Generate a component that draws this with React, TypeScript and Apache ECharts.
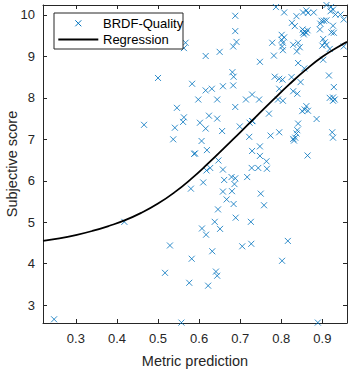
import React, { useEffect, useRef } from "react";
import * as echarts from "echarts";

// Scatter data: metric prediction (x) vs subjective score (y)
const metricX: number[] = [
  0.563, 0.567, 0.500, 0.583, 0.546, 0.563, 0.466, 0.541, 0.561, 0.537,
  0.588, 0.580, 0.418, 0.529, 0.582, 0.517, 0.576, 0.247, 0.557,
  0.646, 0.689, 0.726, 0.638, 0.607, 0.617, 0.651, 0.632, 0.705, 0.727,
  0.816, 0.802, 0.641, 0.644, 0.622, 0.889,
  0.624, 0.644, 0.602, 0.616, 0.656, 0.699, 0.723, 0.730, 0.770, 0.851,
  0.865, 0.886, 0.841, 0.839, 0.837, 0.834, 0.829, 0.831, 0.795, 0.774,
  0.722, 0.606, 0.590, 0.619, 0.748, 0.729, 0.748, 0.764, 0.728, 0.744,
  0.765, 0.647, 0.627, 0.618, 0.658, 0.661, 0.679, 0.688, 0.686, 0.717,
  0.610, 0.658, 0.680, 0.750, 0.667, 0.684, 0.758, 0.864, 0.924, 0.926,
  0.787, 0.807, 0.688, 0.688, 0.691, 0.683, 0.616, 0.650, 0.748, 0.782,
  0.778, 0.801, 0.804, 0.802, 0.804, 0.829, 0.841, 0.845, 0.838, 0.841,
  0.856, 0.837, 0.853, 0.861, 0.865, 0.879, 0.826, 0.833, 0.852, 0.857,
  0.853, 0.861, 0.855, 0.864, 0.910, 0.921, 0.926, 0.944, 0.920, 0.932,
  0.952, 0.898, 0.904, 0.910, 0.895, 0.926, 0.894, 0.922, 0.928, 0.902,
  0.906, 0.910, 0.900, 0.918, 0.952, 0.902, 0.916, 0.928, 0.918, 0.926,
  0.930, 0.926, 0.784, 0.795, 0.803, 0.825, 0.847, 0.829, 0.839, 0.795,
  0.792, 0.804, 0.861, 0.857, 0.681, 0.684, 0.616, 0.631, 0.658, 0.683,
  0.598, 0.644, 0.714, 0.729, 0.746, 0.688, 0.729, 0.801, 0.807
];
const subjectiveY: number[] = [
  9.20, 9.33, 8.48, 8.34, 7.76, 7.53, 7.35, 7.28, 7.42, 7.00,
  6.65, 5.81, 5.01, 4.44, 4.12, 3.78, 3.54, 2.66, 2.58,
  5.31, 5.11, 5.01, 5.01, 4.85, 4.70, 4.84, 4.30, 4.42, 4.48,
  4.55, 4.07, 3.81, 3.71, 3.47, 2.58,
  7.57, 7.50, 7.40, 7.26, 7.20, 7.31, 7.40, 7.44, 7.62, 7.68,
  7.69, 7.49, 7.38, 7.22, 7.14, 7.04, 7.01, 6.97, 7.17, 7.09,
  7.06, 6.96, 6.66, 6.74, 6.83, 6.72, 6.60, 6.47, 6.31, 6.31,
  6.29, 6.49, 6.31, 6.25, 6.27, 6.02, 6.09, 6.06, 5.92, 6.09,
  5.96, 5.74, 5.75, 5.69, 5.55, 5.44, 5.41, 6.61, 7.17, 7.04,
  10.19, 10.06, 9.98, 9.61, 9.35, 9.24, 9.01, 9.11, 8.87, 9.02,
  9.33, 9.52, 9.33, 9.24, 9.15, 9.28, 9.33, 9.22, 9.12, 8.84,
  8.71, 9.97, 10.06, 10.11, 10.05, 10.06, 9.81, 9.73, 9.65, 9.60,
  9.57, 9.57, 9.53, 9.63, 10.24, 10.19, 10.13, 10.01, 10.09, 10.01,
  9.89, 9.86, 9.86, 9.87, 9.79, 9.74, 9.65, 9.58, 9.57, 9.42,
  9.34, 9.28, 9.26, 9.18, 9.24, 8.92, 8.54, 8.26, 8.00, 8.01,
  7.96, 7.93, 8.51, 8.46, 8.44, 8.50, 8.38, 8.16, 8.10, 8.22,
  7.96, 7.93, 7.80, 7.72, 8.62, 8.51, 8.18, 8.22, 8.28, 8.30,
  7.96, 7.96, 7.96, 8.08, 7.96, 7.78, 7.44, 9.40, 9.46
];

// Regression curve
const regX: number[] = [0.22, 0.26, 0.30, 0.34, 0.38, 0.42, 0.46, 0.50, 0.54, 0.58, 0.62, 0.66, 0.70, 0.74, 0.78, 0.82, 0.86, 0.90, 0.94, 0.96];
const regY: number[] = [4.55, 4.61, 4.69, 4.79, 4.91, 5.05, 5.23, 5.45, 5.72, 6.04, 6.40, 6.78, 7.17, 7.56, 7.95, 8.33, 8.68, 8.99, 9.24, 9.35];

const xTicks: number[] = [0.3, 0.4, 0.5, 0.6, 0.7, 0.8, 0.9];
const yTicks: number[] = [3, 4, 5, 6, 7, 8, 9, 10];

const seriesNames = ["BRDF-Quality", "Regression"];

const BLUE = "#0072BD";
const AX = "#262626";
const FONT = "'Liberation Sans', Arial, Helvetica, sans-serif";
const XMARK = "path://M0,0L10,10M10,0L0,10";

export default function App() {
  const ref = useRef<HTMLDivElement>(null);
  useEffect(() => {
    if (!ref.current) return;
    const chart = echarts.init(ref.current, undefined, { renderer: "svg" });
    const axisCommon = {
      type: "value" as const,
      axisLine: { show: true, lineStyle: { color: AX, width: 1 } },
      axisTick: { show: true, inside: true, length: 4, lineStyle: { color: AX } },
      splitLine: { show: false },
    };
    chart.setOption({
      animation: false,
      backgroundColor: "#ffffff",
      textStyle: { fontFamily: FONT },
      grid: { left: 43, right: 4, top: 5, bottom: 47, containLabel: false, outerBoundsMode: "none" },
      xAxis: [
        {
          ...axisCommon,
          position: "bottom",
          min: 0.22,
          max: 0.96,
          axisTick: { ...axisCommon.axisTick, customValues: xTicks },
          axisLabel: {
            customValues: xTicks,
            color: AX,
            fontSize: 13,
            fontFamily: FONT,
            margin: 9,
            formatter: (v: number) => v.toFixed(1),
          },
          name: "Metric prediction",
          nameLocation: "middle",
          nameGap: 30,
          nameTextStyle: { color: AX, fontSize: 14.5, fontFamily: FONT },
        },
        {
          ...axisCommon,
          position: "top",
          min: 0.22,
          max: 0.96,
          axisTick: { ...axisCommon.axisTick, customValues: xTicks },
          axisLabel: { show: false },
        },
      ],
      yAxis: [
        {
          ...axisCommon,
          position: "left",
          min: 2.57,
          max: 10.24,
          axisTick: { ...axisCommon.axisTick, customValues: yTicks },
          axisLabel: {
            customValues: yTicks,
            color: AX,
            fontSize: 13,
            fontFamily: FONT,
            margin: 8,
          },
          name: "Subjective score",
          nameLocation: "middle",
          nameGap: 24,
          nameMoveOverlap: false,
          nameTextStyle: { color: AX, fontSize: 14.5, fontFamily: FONT },
        },
        {
          ...axisCommon,
          position: "right",
          min: 2.57,
          max: 10.24,
          axisTick: { ...axisCommon.axisTick, customValues: yTicks },
          axisLabel: { show: false },
        },
      ],
      series: [
        {
          name: seriesNames[0],
          type: "scatter",
          xAxisIndex: 0,
          yAxisIndex: 0,
          clip: false,
          symbol: XMARK,
          symbolSize: 6,
          itemStyle: { color: "rgba(0,0,0,0)", borderColor: BLUE, borderWidth: 1 },
          data: metricX.map((x, i) => [x, subjectiveY[i]]),
          z: 2,
        },
        {
          name: seriesNames[1],
          type: "line",
          xAxisIndex: 0,
          yAxisIndex: 0,
          smooth: true,
          showSymbol: false,
          symbol: "none",
          lineStyle: { color: "#000000", width: 1.8 },
          data: regX.map((x, i) => [x, regY[i]]),
          z: 3,
        },
      ],
      graphic: [
        {
          type: "group",
          z: 100,
          children: [
            {
              type: "rect",
              shape: { x: 54, y: 13, width: 129, height: 36 },
              style: { fill: "#ffffff", stroke: AX, lineWidth: 1 },
              z: 100,
            },
            {
              type: "line",
              shape: { x1: 75.3, y1: 20.3, x2: 81.3, y2: 26.3 },
              style: { stroke: BLUE, lineWidth: 1 },
              z: 101,
            },
            {
              type: "line",
              shape: { x1: 81.3, y1: 20.3, x2: 75.3, y2: 26.3 },
              style: { stroke: BLUE, lineWidth: 1 },
              z: 101,
            },
            {
              type: "text",
              x: 103,
              y: 23.5,
              style: { text: seriesNames[0], fill: "#000000", fontSize: 13, fontFamily: FONT, verticalAlign: "middle", align: "left" },
              z: 101,
            },
            {
              type: "line",
              shape: { x1: 58.3, y1: 39.5, x2: 98.3, y2: 39.5 },
              style: { stroke: "#000000", lineWidth: 1.8 },
              z: 101,
            },
            {
              type: "text",
              x: 103,
              y: 39.5,
              style: { text: seriesNames[1], fill: "#000000", fontSize: 13, fontFamily: FONT, verticalAlign: "middle", align: "left" },
              z: 101,
            },
          ],
        },
      ],
    });
    return () => chart.dispose();
  }, []);
  return (
    <div
      ref={ref}
      style={{ position: "absolute", left: 0, top: 0, width: 351, height: 370, background: "#fff" }}
    />
  );
}
